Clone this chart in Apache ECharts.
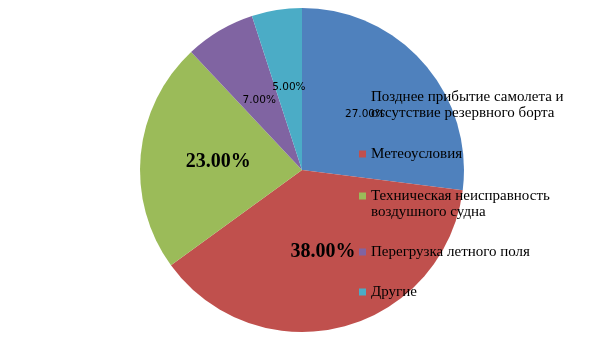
<!DOCTYPE html>
<html><head><meta charset="utf-8">
<script src="https://cdn.jsdelivr.net/npm/echarts@6/dist/echarts.min.js"></script>
<style>html,body{margin:0;padding:0;background:#fff}#c{width:605px;height:340px}</style>
</head><body><div id="c"></div>
<script>
const categories = ['Позднее прибытие самолета и\nотсутствие резервного борта', 'Метеоусловия', 'Техническая неисправность\nвоздушного судна', 'Перегрузка летного поля', 'Другие'];
const values = [27, 38, 23, 7, 5];
const colors = ['#4F81BD', '#C0504D', '#9BBB59', '#8064A2', '#4BACC6'];
const legendTops = [73, 146, 172, 244, 284];

const chart = echarts.init(document.getElementById('c'));
const smallLabel = {fontFamily: 'DejaVu Sans', fontSize: 10.5, color: '#000', fontWeight: 'normal'};
const bigLabel = {fontFamily: 'Liberation Serif', fontSize: 20, color: '#000', fontWeight: 'bold'};
const data = categories.map((n, i) => {
  const big = values[i] > 20 && i !== 0;
  return {name: n, value: values[i], itemStyle: {color: colors[i]}, label: Object.assign({}, big ? bigLabel : smallLabel)};
});
const legends = categories.map((n, i) => {
  const twoLine = n.indexOf('\n') >= 0;
  return {
    data: [n],
    orient: 'vertical', left: 359, top: legendTops[i], padding: 0,
    icon: 'rect', itemWidth: 7, itemHeight: 7, itemGap: 0,
    selectedMode: false,
    formatter: twoLine ? (name => '\n' + name) : (name => name),
    textStyle: {fontFamily: 'Liberation Serif', fontSize: 15, color: '#000', lineHeight: 16}
  };
});
chart.setOption({
  animation: false,
  legend: legends,
  series: [{
    type: 'pie', center: [302, 170], radius: [0, 162], startAngle: 90, clockwise: true,
    avoidLabelOverlap: false,
    label: {position: 'inside', formatter: p => p.value.toFixed(2) + '%'},
    labelLine: {show: false},
    labelLayout: p => ({hideOverlap: false, dy: p.dataIndex === 3 ? 3 : 0}),
    itemStyle: {borderWidth: 0},
    emphasis: {disabled: true},
    data: data
  }]
});
</script></body></html>
